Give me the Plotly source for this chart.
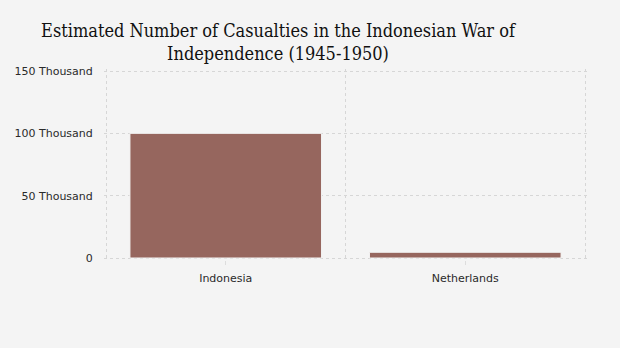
import plotly.graph_objects as go

categories = ["Indonesia", "Netherlands"]
casualties = [100000, 4600]
y_tick_vals = [0, 50000, 100000, 150000]
y_tick_text = ["0", "50 Thousand", "100 Thousand", "150 Thousand"]

x_pos = list(range(len(categories)))

# pad the ranges by 2px so the edge gridlines are drawn
px_x = 2 / 239.5
px_y = 2 * 150000 / 187

fig = go.Figure(go.Bar(
    x=x_pos, y=casualties, width=0.8,
    marker=dict(color="#96665E", line=dict(color="#f4f4f4", width=1)),
))

fig.update_layout(
    width=620, height=348,
    margin=dict(l=104, r=33, t=69, b=88),
    paper_bgcolor="#f4f4f4", plot_bgcolor="#f4f4f4",
    showlegend=False,
    title=dict(
        text="Estimated Number of Casualties in the Indonesian War of<br>Independence (1945-1950)",
        x=278/620, xanchor="center", y=0.895, yanchor="top",
        font=dict(family="DejaVu Serif Condensed", size=18, color="#111111"),
    ),
    font=dict(family="DejaVu Sans", size=11, color="#2a2a2a"),
)

fig.update_xaxes(
    range=[-0.5 - px_x, 1.5 + px_x], tickvals=x_pos, ticktext=categories,
    showgrid=False, zeroline=False, ticks="outside", ticklen=4,
    tickcolor="#dddddd", ticklabelstandoff=4,
    minor=dict(tickvals=[-0.5, 0.5, 1.5], showgrid=True, gridcolor="#d6d6d6",
               griddash="dot", gridwidth=1, ticks=""),
    showline=False,
)
fig.update_yaxes(
    range=[-px_y, 150000 + px_y], tickvals=y_tick_vals, ticktext=y_tick_text,
    showgrid=True, gridcolor="#d6d6d6", griddash="dot", gridwidth=1,
    zeroline=False, ticks="outside", ticklen=8, tickcolor="rgba(0,0,0,0)",
)

fig.write_html("out.html")
